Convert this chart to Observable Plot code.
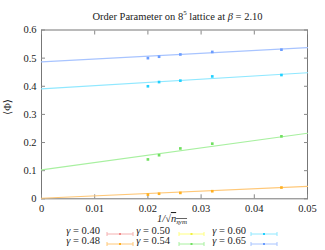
<!DOCTYPE html>
<html><head><meta charset="utf-8">
<script src="https://cdn.jsdelivr.net/npm/d3@7"></script>
<script src="https://cdn.jsdelivr.net/npm/@observablehq/plot@0.6"></script>
<style>
body{margin:0;background:#fff;font-family:"Liberation Serif","DejaVu Serif",serif;}
#title{height:22px;line-height:26px;text-align:center;font-size:10.5px;color:#222;padding-left:30px;}
#legend{position:relative;height:26px;font-size:10.5px;color:#222;}
.lab{position:absolute;white-space:nowrap;text-align:right;width:60px;}
#chart svg, #chart svg text{font-family:"Liberation Serif","DejaVu Serif",serif !important;}
</style></head><body>
<div id="title">Order Parameter on 8<sup style="font-size:7px">5</sup> lattice at <i>β</i> = 2.10</div>
<div id="chart"></div>
<div id="legend"></div>
<script>
const gammas = ["0.40","0.48","0.50","0.54","0.60","0.65"];
const pointColors = ["#f08a8a","#ffb020","#f0f040","#70e060","#20d0ff","#6a9cff"];
const lineColors  = ["#f4b0b0","#ffc878","#ffff80","#a8f0a0","#90e8ff","#a8c4ff"];
const xs = [0.0200, 0.0221, 0.0261, 0.0321, 0.0451];
const ys = {
  "0.40": [],
  "0.48": [0.015, 0.018, 0.021, 0.027, 0.040],
  "0.50": [],
  "0.54": [0.140, 0.155, 0.179, 0.196, 0.222],
  "0.60": [0.400, 0.415, 0.420, 0.435, 0.440],
  "0.65": [0.500, 0.505, 0.513, 0.522, 0.530]
};
// fit lines: values at x = 0 and x = 0.05
const fitAt0   = {"0.48":0.002, "0.54":0.103, "0.60":0.391, "0.65":0.487};
const fitAt005 = {"0.48":0.044, "0.54":0.233, "0.60":0.448, "0.65":0.537};
const fitX = [0, 0.05];

const pts = [], fits = [];
gammas.forEach((g,i)=>{
  (ys[g]||[]).forEach((v,j)=>pts.push({g, x: xs[j], y: v, c: pointColors[i]}));
  if (fitAt0[g] !== undefined) {
    fits.push({g, x: fitX[0], y: fitAt0[g], c: lineColors[i]});
    fits.push({g, x: fitX[1], y: fitAt005[g], c: lineColors[i]});
  }
});

const xticks = [0,0.01,0.02,0.03,0.04,0.05];
const yticks = [0,0.1,0.2,0.3,0.4,0.5,0.6];

const chart = Plot.plot({
  width: 325, height: 204,
  marginLeft: 41, marginRight: 18, marginTop: 7.5, marginBottom: 27.7,
  style: "font-family:'Liberation Serif','DejaVu Serif',serif;font-size:10.5px;color:#222;background:#fff;",
  x: {domain:[0,0.05]},
  y: {domain:[0,0.6]},
  marks: [
    Plot.frame({stroke:"#777", strokeWidth:1}),
    Plot.axisX({ticks: xticks, tickSize: -4, stroke:"#888", tickPadding: 10, label: null, tickFormat: d=>d===0?"0":d3.format(".2f")(d)}),
    Plot.axisX({anchor:"top", ticks: xticks, tickSize: -4, stroke:"#888", tickFormat: () => "", label:null}),
    Plot.axisY({ticks: yticks, tickSize: -4, stroke:"#888", tickPadding: 9, label: null, tickFormat: d=>d===0?"0":d3.format(".1f")(d)}),
    Plot.axisY({anchor:"right", ticks: yticks, tickSize: -4, stroke:"#888", tickFormat: () => "", label:null}),
    Plot.line(fits, {x:"x", y:"y", z:"g", stroke:"c", strokeWidth:1.2}),
    Plot.dot(pts, {x:"x", y:"y", fill:"c", symbol:"square", r:1.5}),
  ]
});
document.getElementById("chart").appendChild(chart);

// axis titles
const svg = d3.select(chart);
svg.append("text").attr("x", 172).attr("y", 200).attr("text-anchor","middle")
  .attr("font-size", 10.5).attr("font-style","italic")
  .html('1/<tspan font-style="normal">√</tspan><tspan text-decoration="overline">n<tspan font-size="7" dy="2">sym</tspan></tspan>');
svg.append("text").attr("transform","translate(11,85) rotate(-90)").attr("text-anchor","middle")
  .attr("font-size", 10.5).text("⟨Φ⟩");

// legend
const leg = document.getElementById("legend");
const colLabelRight = [100, 170, 246];
const colLine = [[107,133],[179,204],[251,277]];
gammas.forEach((g,i)=>{
  const col = Math.floor(i/2), row = i%2;
  const top = 1 + row*10;
  const lab = document.createElement("div");
  lab.className = "lab";
  lab.style.left = (colLabelRight[col]-60)+"px";
  lab.style.top = (top - 2)+"px";
  lab.innerHTML = "<i>γ</i> = " + g;
  leg.appendChild(lab);
  const s = document.createElementNS("http://www.w3.org/2000/svg","svg");
  const [a,b] = colLine[col];
  s.setAttribute("width", b-a+2); s.setAttribute("height", 8);
  s.style.position="absolute"; s.style.left=(a-1)+"px"; s.style.top=(top+3)+"px";
  s.innerHTML = `<line x1="1" x2="${b-a+1}" y1="4" y2="4" stroke="${lineColors[i]}" stroke-width="1"/>`+
    `<line x1="1" x2="1" y1="2" y2="6" stroke="${lineColors[i]}"/><line x1="${b-a+1}" x2="${b-a+1}" y1="2" y2="6" stroke="${lineColors[i]}"/>`+
    `<rect x="${(b-a)/2}" y="3" width="2" height="2" fill="${pointColors[i]}"/>`;
  leg.appendChild(s);
});
</script></body></html>
